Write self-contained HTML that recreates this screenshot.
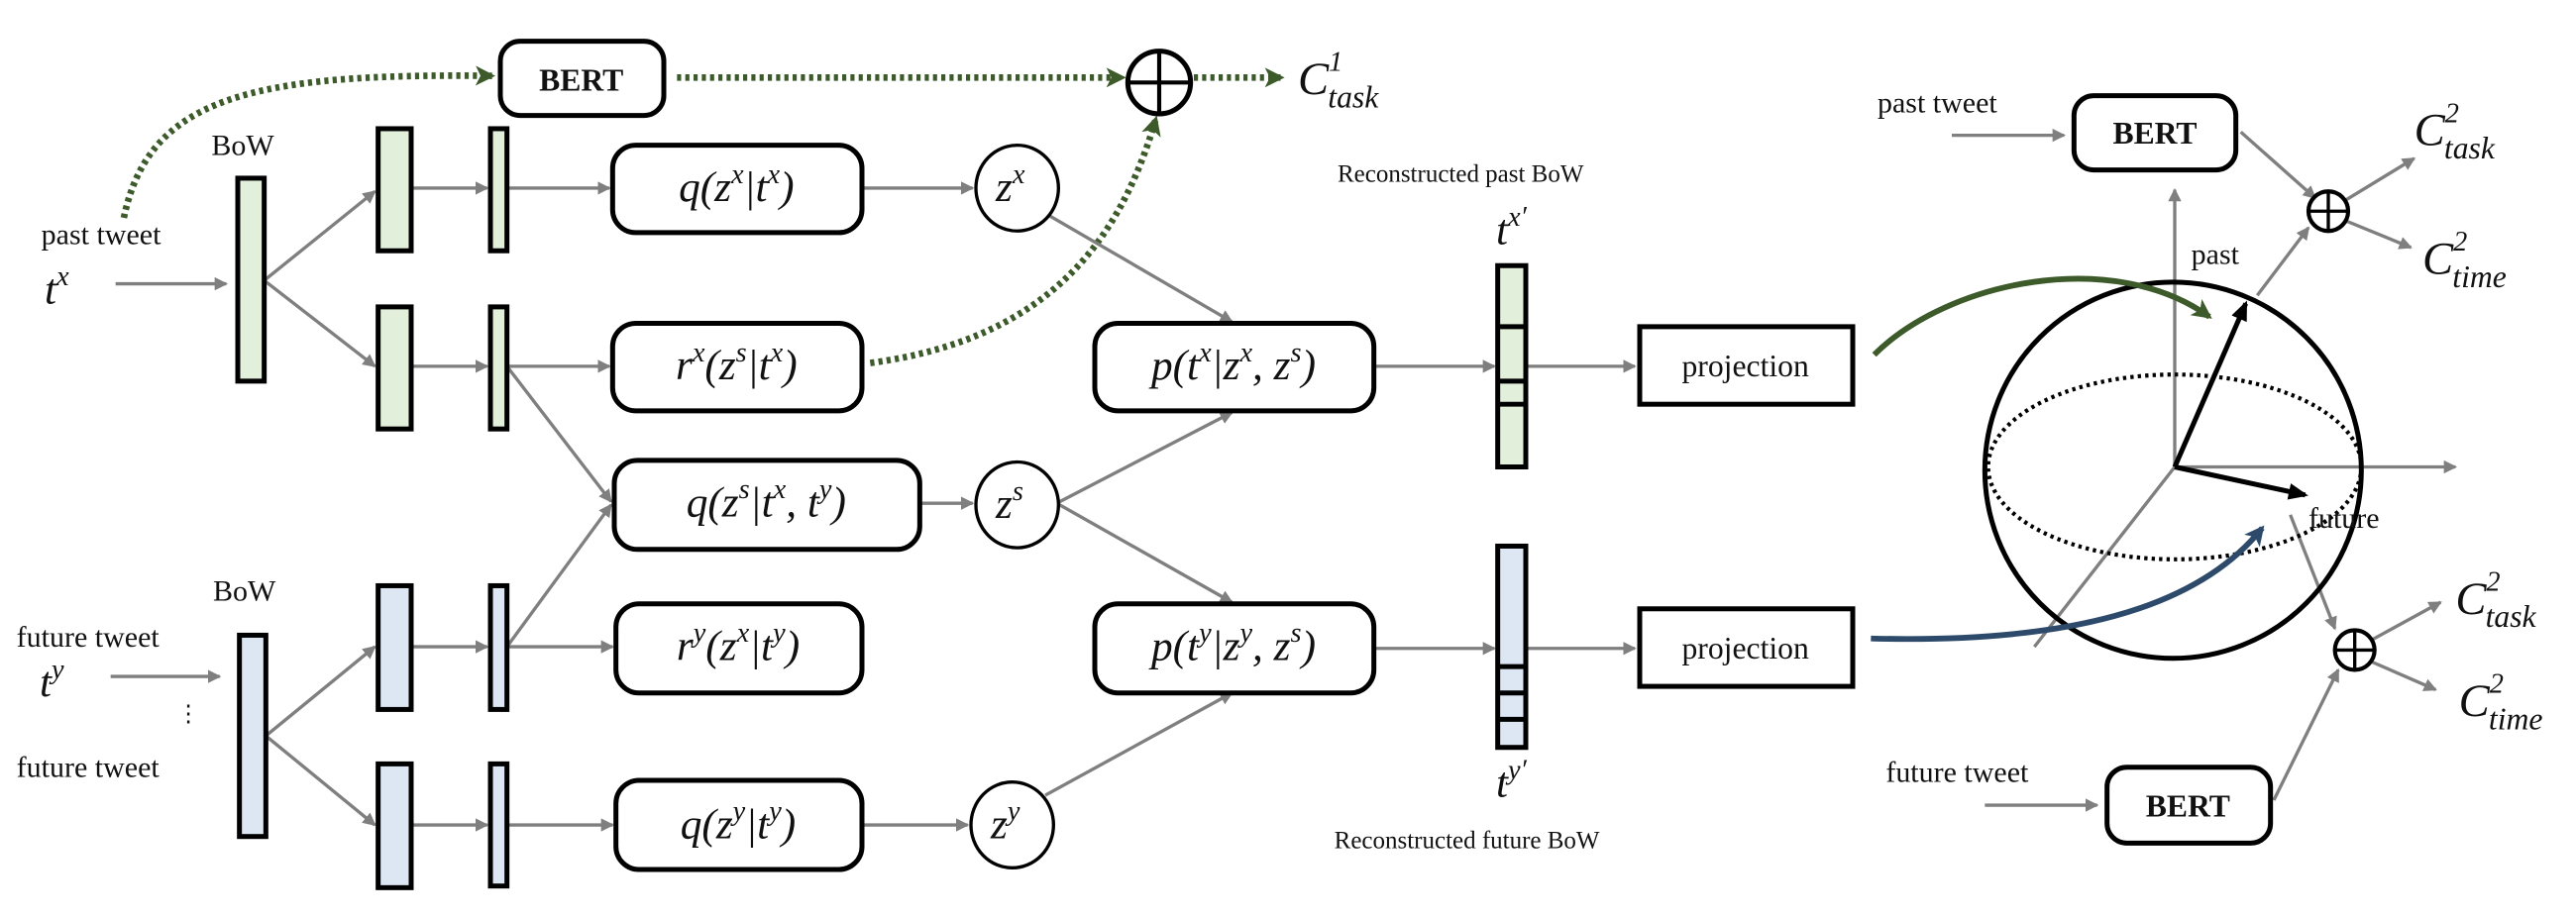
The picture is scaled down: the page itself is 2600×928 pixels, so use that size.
<!DOCTYPE html>
<html><head><meta charset="utf-8"><style>
html,body{margin:0;padding:0;background:#fff;}
svg{display:block}
.t{font-family:"Liberation Serif",serif;fill:#111}
.m{font-family:"Liberation Serif",serif;font-style:italic;fill:#111}
</style></head><body>
<svg width="2600" height="928" viewBox="0 0 1560 557" preserveAspectRatio="none" xmlns="http://www.w3.org/2000/svg">
<defs>
<marker id="ag" markerWidth="8" markerHeight="8" refX="7" refY="4" orient="auto" markerUnits="userSpaceOnUse"><path d="M0,0 L8,4 L0,8 z" fill="#7f7f7f"/></marker>
<marker id="agr" markerWidth="12" markerHeight="12" refX="10" refY="6" orient="auto" markerUnits="userSpaceOnUse"><path d="M0,0 L12,6 L0,12 L3,6 z" fill="#3d5a2a"/></marker>
<marker id="ab" markerWidth="12" markerHeight="12" refX="10" refY="6" orient="auto" markerUnits="userSpaceOnUse"><path d="M0,0 L12,6 L0,12 L3,6 z" fill="#2d4a6b"/></marker>
<marker id="ak" markerWidth="12" markerHeight="10" refX="10" refY="5" orient="auto" markerUnits="userSpaceOnUse"><path d="M0,0 L12,5 L0,10 z" fill="#000"/></marker>
</defs>
<g fill="none" stroke="#3d5a2a" stroke-width="4" stroke-dasharray="2.5 2.5">
<path d="M75,132 C90,60 150,44 298,46" marker-end="url(#agr)"/>
<path d="M410,47 L680,47" marker-end="url(#agr)"/>
<path d="M723,47 L776,47" marker-end="url(#agr)"/>
<path d="M527,220 C640,205 680,140 700,72" marker-end="url(#agr)"/>
</g>
<rect x="303" y="25" width="99" height="45" rx="12" fill="#fff" stroke="#000" stroke-width="3"/>
<text x="352" y="55" class="t" font-size="19" font-weight="bold" text-anchor="middle">BERT</text>
<circle cx="702" cy="50" r="19" fill="#fff" stroke="#000" stroke-width="3"/>
<path d="M683,50 H721 M702,31 V69" stroke="#000" stroke-width="2.5"/>
<text x="786" y="57" class="m" font-size="28">C<tspan font-size="17" dy="-14">1</tspan><tspan font-size="19" dx="-9" dy="22">task</tspan></text>

<g stroke="#7f7f7f" stroke-width="2" fill="none">
<path d="M70,172 L137,172" marker-end="url(#ag)"/>
<path d="M160,170 L227,116" marker-end="url(#ag)"/>
<path d="M160,170 L227,222" marker-end="url(#ag)"/>
<path d="M250,114 L295,114" marker-end="url(#ag)"/>
<path d="M307,114 L369,114" marker-end="url(#ag)"/>
<path d="M250,222 L295,222" marker-end="url(#ag)"/>
<path d="M307,222 L369,222" marker-end="url(#ag)"/>
<path d="M522,114 L589,114" marker-end="url(#ag)"/>
<path d="M307,222 L370,304" marker-end="url(#ag)"/>
<path d="M307,392 L370,306" marker-end="url(#ag)"/>
<path d="M557,305 L589,305" marker-end="url(#ag)"/>
<path d="M67,410 L133,410" marker-end="url(#ag)"/>
<path d="M161,446 L227,392" marker-end="url(#ag)"/>
<path d="M161,446 L227,500" marker-end="url(#ag)"/>
<path d="M250,392 L295,392" marker-end="url(#ag)"/>
<path d="M307,392 L371,392" marker-end="url(#ag)"/>
<path d="M250,500 L295,500" marker-end="url(#ag)"/>
<path d="M307,500 L371,500" marker-end="url(#ag)"/>
<path d="M522,500 L586,500" marker-end="url(#ag)"/>
<path d="M636,131 L746,195" marker-end="url(#ag)"/>
<path d="M640,305 L746,250" marker-end="url(#ag)"/>
<path d="M640,305 L746,365" marker-end="url(#ag)"/>
<path d="M633,482 L746,420" marker-end="url(#ag)"/>
<path d="M832,222 L905,222" marker-end="url(#ag)"/>
<path d="M924,222 L990,222" marker-end="url(#ag)"/>
<path d="M832,393 L905,393" marker-end="url(#ag)"/>
<path d="M924,393 L990,393" marker-end="url(#ag)"/>
<path d="M1182,82 L1250,82" marker-end="url(#ag)"/>
<path d="M1357,80 L1402,120" marker-end="url(#ag)"/>
<path d="M1421,121 L1462,96" marker-end="url(#ag)"/>
<path d="M1421,134 L1460,150" marker-end="url(#ag)"/>
<path d="M1367,179 L1398,138" marker-end="url(#ag)"/>
<path d="M1317,283 L1317,115" marker-end="url(#ag)"/>
<path d="M1317,283 L1487,283" marker-end="url(#ag)"/>
<path d="M1317,283 L1232,392"/>
<path d="M1387,312 L1414,381" marker-end="url(#ag)"/>
<path d="M1436,388 L1478,365" marker-end="url(#ag)"/>
<path d="M1436,401 L1475,418" marker-end="url(#ag)"/>
<path d="M1202,488 L1270,488" marker-end="url(#ag)"/>
<path d="M1377,485 L1416,406" marker-end="url(#ag)"/>
</g>

<g stroke="#000" stroke-width="3">
<rect x="144" y="108" width="16" height="123" fill="#e2efda"/>
<rect x="229" y="78" width="20" height="74" fill="#e2efda"/>
<rect x="297" y="78" width="10" height="74" fill="#e2efda"/>
<rect x="229" y="186" width="20" height="74" fill="#e2efda"/>
<rect x="297" y="186" width="10" height="74" fill="#e2efda"/>
<rect x="145" y="385" width="16" height="122" fill="#dde7f3"/>
<rect x="229" y="355" width="20" height="75" fill="#dde7f3"/>
<rect x="297" y="355" width="10" height="75" fill="#dde7f3"/>
<rect x="229" y="463" width="20" height="75" fill="#dde7f3"/>
<rect x="297" y="463" width="10" height="74" fill="#dde7f3"/>
<rect x="907" y="161" width="17" height="122" fill="#e2efda"/>
<path d="M907,198 H924 M907,231 H924 M907,245 H924" fill="none"/>
<rect x="907" y="331" width="17" height="122" fill="#dde7f3"/>
<path d="M907,404 H924 M907,420 H924 M907,436 H924" fill="none"/>
<rect x="371" y="88" width="151" height="53" rx="14" fill="#fff"/>
<rect x="371" y="196" width="151" height="53" rx="14" fill="#fff"/>
<rect x="372" y="279" width="185" height="54" rx="14" fill="#fff"/>
<rect x="373" y="366" width="149" height="54" rx="14" fill="#fff"/>
<rect x="373" y="473" width="149" height="54" rx="14" fill="#fff"/>
<rect x="663" y="196" width="169" height="53" rx="14" fill="#fff"/>
<rect x="663" y="366" width="169" height="54" rx="14" fill="#fff"/>
<ellipse cx="616" cy="114" rx="25" ry="26" fill="#fff" stroke-width="2"/>
<ellipse cx="616" cy="306" rx="25" ry="26" fill="#fff" stroke-width="2"/>
<ellipse cx="613" cy="500" rx="25" ry="26" fill="#fff" stroke-width="2"/>
<rect x="993" y="198" width="129" height="47" fill="#fff"/>
<rect x="993" y="369" width="129" height="47" fill="#fff"/>
<rect x="1256" y="58" width="98" height="45" rx="12" fill="#fff"/>
<rect x="1276" y="465" width="99" height="46" rx="12" fill="#fff"/>
<circle cx="1316" cy="285" r="114" fill="none"/>
<circle cx="1410" cy="128" r="12" fill="#fff" stroke-width="2.5"/>
<path d="M1398,128 H1422 M1410,116 V140" fill="none" stroke-width="2"/>
<circle cx="1426" cy="394" r="12" fill="#fff" stroke-width="2.5"/>
<path d="M1414,394 H1438 M1426,382 V406" fill="none" stroke-width="2"/>
</g>
<ellipse cx="1317" cy="283" rx="113" ry="56" fill="none" stroke="#000" stroke-width="2.5" stroke-dasharray="2 2.5"/>
<g stroke="#000" stroke-width="3" fill="none">
<path d="M1317,283 L1360,184" marker-end="url(#ak)"/>
<path d="M1317,283 L1396,300" marker-end="url(#ak)"/>
</g>
<path d="M1135,215 C1180,170 1280,150 1338,192" fill="none" stroke="#3d5a2a" stroke-width="3.5" marker-end="url(#agr)"/>
<path d="M1133,387 C1250,390 1330,370 1370,320" fill="none" stroke="#2d4a6b" stroke-width="3.5" marker-end="url(#ab)"/>

<g class="t" font-size="18">
<text x="128" y="94">BoW</text>
<text x="25" y="148">past tweet</text>
<text x="129" y="364">BoW</text>
<text x="10" y="392">future tweet</text>
<text x="10" y="471">future tweet</text>
<text x="1057" y="228" text-anchor="middle" font-size="19">projection</text>
<text x="1057" y="399" text-anchor="middle" font-size="19">projection</text>
<text x="1137" y="68">past tweet</text>
<text x="1142" y="474">future tweet</text>
<text x="1327" y="160">past</text>
<text x="1398" y="320">future</text>
<text x="810" y="110" font-size="15">Reconstructed past BoW</text>
<text x="808" y="514" font-size="15">Reconstructed future BoW</text>
</g>
<text x="1305" y="87" class="t" font-size="19" font-weight="bold" text-anchor="middle">BERT</text>
<text x="1325" y="495" class="t" font-size="19" font-weight="bold" text-anchor="middle">BERT</text>
<text x="107" y="437" class="t" font-size="14">⋮</text>

<g class="m" font-size="26">
<text x="27" y="184">t<tspan font-size="17" dy="-11">x</tspan></text>
<text x="24" y="422">t<tspan font-size="17" dy="-11">y</tspan></text>
<text x="446" y="122" text-anchor="middle">q(z<tspan font-size="17" dy="-11">x</tspan><tspan dy="11">|t</tspan><tspan font-size="17" dy="-11">x</tspan><tspan dy="11">)</tspan></text>
<text x="446" y="230" text-anchor="middle">r<tspan font-size="17" dy="-11">x</tspan><tspan dy="11">(z</tspan><tspan font-size="17" dy="-11">s</tspan><tspan dy="11">|t</tspan><tspan font-size="17" dy="-11">x</tspan><tspan dy="11">)</tspan></text>
<text x="464" y="313" text-anchor="middle">q(z<tspan font-size="17" dy="-11">s</tspan><tspan dy="11">|t</tspan><tspan font-size="17" dy="-11">x</tspan><tspan dy="11">, t</tspan><tspan font-size="17" dy="-11">y</tspan><tspan dy="11">)</tspan></text>
<text x="447" y="400" text-anchor="middle">r<tspan font-size="17" dy="-11">y</tspan><tspan dy="11">(z</tspan><tspan font-size="17" dy="-11">x</tspan><tspan dy="11">|t</tspan><tspan font-size="17" dy="-11">y</tspan><tspan dy="11">)</tspan></text>
<text x="447" y="508" text-anchor="middle">q(z<tspan font-size="17" dy="-11">y</tspan><tspan dy="11">|t</tspan><tspan font-size="17" dy="-11">y</tspan><tspan dy="11">)</tspan></text>
<text x="747" y="230" text-anchor="middle">p(t<tspan font-size="17" dy="-11">x</tspan><tspan dy="11">|z</tspan><tspan font-size="17" dy="-11">x</tspan><tspan dy="11">, z</tspan><tspan font-size="17" dy="-11">s</tspan><tspan dy="11">)</tspan></text>
<text x="747" y="400" text-anchor="middle">p(t<tspan font-size="17" dy="-11">y</tspan><tspan dy="11">|z</tspan><tspan font-size="17" dy="-11">y</tspan><tspan dy="11">, z</tspan><tspan font-size="17" dy="-11">s</tspan><tspan dy="11">)</tspan></text>
<text x="603" y="122">z<tspan font-size="17" dy="-11">x</tspan></text>
<text x="603" y="314">z<tspan font-size="17" dy="-11">s</tspan></text>
<text x="600" y="508">z<tspan font-size="17" dy="-11">y</tspan></text>
<text x="906" y="148">t<tspan font-size="17" dy="-11">x′</tspan></text>
<text x="906" y="483">t<tspan font-size="17" dy="-11">y′</tspan></text>
<text x="1462" y="88" font-size="28">C<tspan font-size="17" dy="-14">2</tspan><tspan font-size="19" dx="-9" dy="22">task</tspan></text>
<text x="1467" y="166" font-size="28">C<tspan font-size="17" dy="-14">2</tspan><tspan font-size="19" dx="-9" dy="22">time</tspan></text>
<text x="1487" y="372" font-size="28">C<tspan font-size="17" dy="-14">2</tspan><tspan font-size="19" dx="-9" dy="22">task</tspan></text>
<text x="1489" y="434" font-size="28">C<tspan font-size="17" dy="-14">2</tspan><tspan font-size="19" dx="-9" dy="22">time</tspan></text>
</g>
</svg>
</body></html>
